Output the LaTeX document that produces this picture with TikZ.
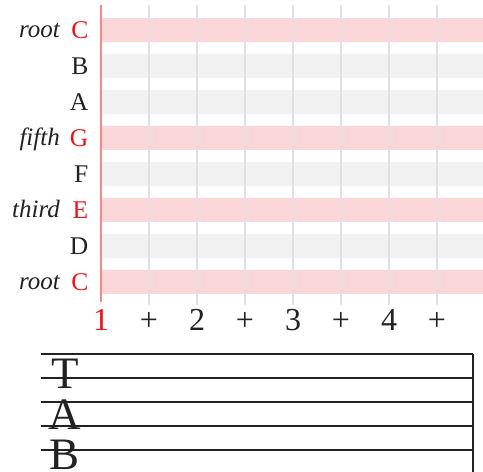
\documentclass[tikz,border=0pt]{standalone}
\usepackage{fontspec}
\setmainfont{Liberation Serif}
\definecolor{bandred}{HTML}{FAD6D8}
\definecolor{bandgray}{HTML}{F2F2F2}
\definecolor{notered}{HTML}{E8161E}
\definecolor{gridgray}{HTML}{E0E0E0}
\definecolor{barred}{HTML}{F08A8C}
\definecolor{inkgray}{HTML}{222222}
\tikzset{
  notelab/.style={anchor=base east, inner sep=0pt, text=inkgray, font=\fontsize{25.5}{28}\selectfont},
  rolelab/.style={anchor=base east, inner sep=0pt, text=inkgray, font=\fontsize{25}{28}\selectfont\itshape},
  beatlab/.style={anchor=base, inner sep=0pt, text=inkgray, font=\fontsize{32}{36}\selectfont},
  tablab/.style={anchor=base, inner sep=0pt, text=inkgray, font=\fontsize{45}{48}\selectfont},
  gridline/.style={draw=gridgray, line width=2.5pt},
  staffline/.style={draw=inkgray, line width=1.1pt}
}
\begin{document}
\begin{tikzpicture}[x=1pt,y=-1pt]
\useasboundingbox (0,0) rectangle (483,472);
% bands and labels
\foreach \n/\r/\lab [count=\i from 0] in {C/1/root,B/0/,A/0/,G/1/fifth,F/0/,E/1/third,D/0/,C/1/root}{
  \pgfmathsetmacro{\yc}{30+36*\i}
  \ifnum\r=1
    \fill[bandred] (101,\yc-12) rectangle (483,\yc+12);
    \node[notelab, text=notered] (note\i) at (88.5,\yc+8) {\n};
  \else
    \fill[bandgray] (101,\yc-12) rectangle (483,\yc+12);
    \node[notelab] (note\i) at (88.5,\yc+8) {\n};
  \fi
  \node[rolelab] (role\i) at (60,\yc+7.5) {\lab};
}
% grid lines
\foreach \k in {1,...,7}{
  \draw[gridline] (101+48*\k,5) -- (101+48*\k,305);
}
\draw[draw=barred, line width=2pt] (101,5) -- (101,302);
% beat labels
\node[beatlab, text=notered] (b1) at (101,330) {1};
\node[beatlab] (p1) at (149,330) {+};
\node[beatlab] (b2) at (197,330) {2};
\node[beatlab] (p2) at (245,330) {+};
\node[beatlab] (b3) at (293,330) {3};
\node[beatlab] (p3) at (341,330) {+};
\node[beatlab] (b4) at (389,330) {4};
\node[beatlab] (p4) at (437,330) {+};
% TAB staff
\node[tablab] (tT) at (65,388) {T};
\node[tablab] (tA) at (65,429) {A};
\node[tablab] (tB) at (65,469.5) {B};
\foreach \j in {0,...,4}{
  \draw[staffline] (41,354+24*\j) -- (473,354+24*\j);
}
\draw[staffline] (473,354) -- (473,472);
\end{tikzpicture}
\end{document}
